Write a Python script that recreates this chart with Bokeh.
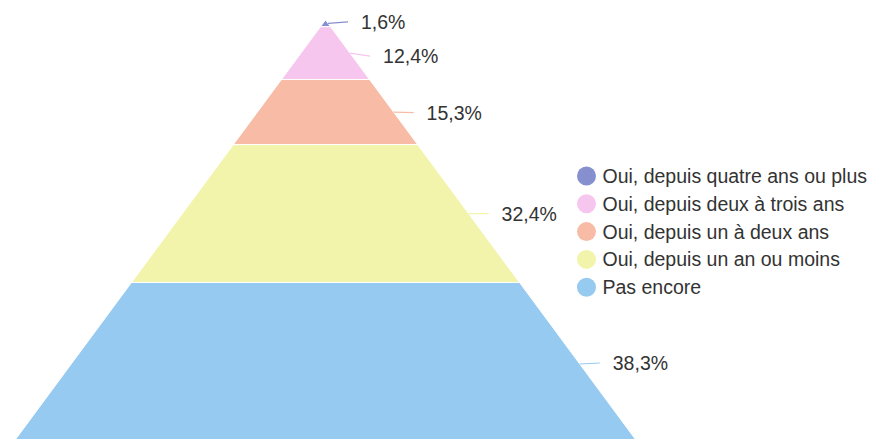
from bokeh.plotting import figure
from bokeh.models import Range1d
from bokeh.core.properties import value
from bokeh.embed import file_html
from bokeh.resources import INLINE

# ---- data ----
categories = [
    "Oui, depuis quatre ans ou plus",
    "Oui, depuis deux à trois ans",
    "Oui, depuis un à deux ans",
    "Oui, depuis un an ou moins",
    "Pas encore",
]
values = [1.6, 12.4, 15.3, 32.4, 38.3]
labels = ["1,6%", "12,4%", "15,3%", "32,4%", "38,3%"]
colors = ["#8790cf", "#f6c6ee", "#f8bba6", "#f3f4ac", "#97caf0"]

# ---- layout constants (page pixels) ----
W, H = 870, 439
APEX_X, APEX_Y = 325.0, 19.4      # apex position on the page
PYR_H = 425.6                      # pixel height of the full pyramid (100 %)
BASE_HALF = 314.5                  # pixel half-width at the base
KX = BASE_HALF / 50.0              # px per x data unit (half width = v/2)
KY = PYR_H / 100.0                 # px per y data unit
LABEL_SHIFT = [-1.5, 3.0, 0.5, 0.0, -1.0]   # label nudges (px, downwards)


def dx(px):
    return px / KX


def dy(px):
    return px / KY


def to_x(page_x):
    return (page_x - APEX_X) / KX


def to_y(page_y):
    return (page_y - APEX_Y) / KY


p = figure(width=W, height=H, output_backend="svg", toolbar_location=None,
           x_range=Range1d(to_x(0), to_x(W)),
           y_range=Range1d(to_y(H), to_y(0)),
           min_border=0, outline_line_color=None)
p.axis.visible = False
p.grid.visible = False
p.background_fill_color = "white"
p.border_fill_color = "white"

# ---- pyramid segments ----
xs, ys, mids = [], [], []
acc = 0.0
for v in values:
    a, b = acc, acc + v
    xs.append([-a / 2, a / 2, b / 2, -b / 2])
    ys.append([a, a, b, b])
    mids.append((a + b) / 2)
    acc = b

p.patches(xs=xs, ys=ys, fill_color=colors, line_color="white", line_width=1)

# ---- connectors and data labels ----
edge_x = [m / 2 for m in mids]
label_y = [m + dy(s) for m, s in zip(mids, LABEL_SHIFT)]
p.segment(x0=edge_x, y0=mids, x1=[e + dx(20) for e in edge_x], y1=label_y,
          line_color=colors, line_width=1.2)
p.text(x=[e + dx(33) for e in edge_x], y=label_y, text=labels,
       text_font=value("Liberation Sans"), text_font_size="19.5px",
       text_color="#333333", text_baseline="middle", text_align="left")

# ---- legend (drawn manually with circles) ----
LEG_X, LEG_Y0, LEG_STEP = 586.0, 175.5, 27.8
leg_y = [to_y(LEG_Y0 + i * LEG_STEP) for i in range(len(categories))]
p.scatter(x=[to_x(LEG_X)] * len(categories), y=leg_y, size=19,
          fill_color=colors, line_color=None, marker="circle")
p.text(x=[to_x(LEG_X + 16)] * len(categories), y=leg_y, text=categories,
       text_font=value("Liberation Sans"), text_font_size="19.5px",
       text_color="#333333", text_baseline="middle", text_align="left")

open("out.html", "w").write(file_html(p, INLINE))
